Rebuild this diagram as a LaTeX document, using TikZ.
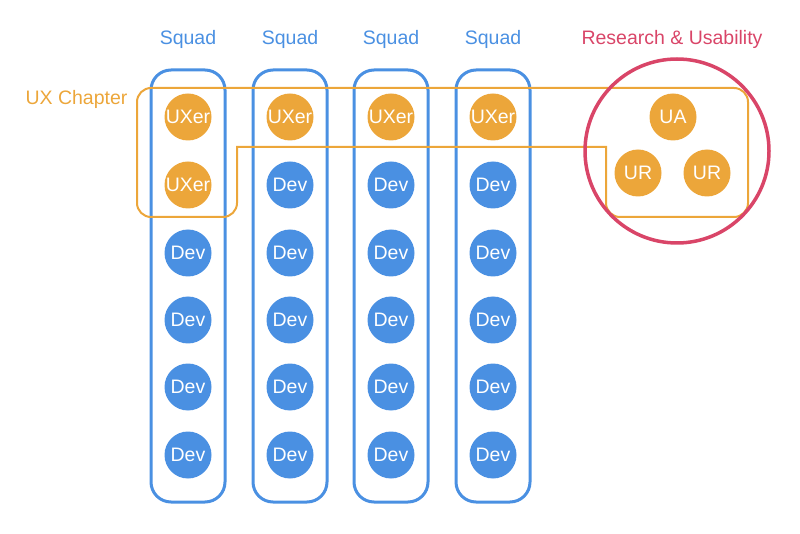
\documentclass[tikz,border=0pt]{standalone}
\usepackage{fontspec}
\setmainfont{Liberation Sans}
\definecolor{squadblue}{RGB}{74,144,226}
\definecolor{uxorange}{RGB}{236,166,58}
\definecolor{resred}{RGB}{217,69,104}

\begin{document}
\begin{tikzpicture}[x=1pt, y=-1pt, every node/.style={font=\fontsize{19.5}{22}\selectfont},
	member/.style={circle, minimum size=47pt, inner sep=0pt, text=white},
	dev/.style={member, fill=squadblue},
	uxer/.style={member, fill=uxorange},
	squadbox/.style={draw=squadblue, line width=3pt, rounded corners=20pt, minimum width=74pt, minimum height=432pt}]
	\useasboundingbox (0,0) rectangle (800,534);
	% squads
	\foreach \x/\i in {188/1,290/2,391/3,493/4} {
		\node[squadbox] (squad\i) at (\x,286) {};
		\node[text=squadblue] (squadlabel\i) at (\x,39) {Squad};
	}
	% chapter outline and research circle
	\draw[uxorange, line width=2pt] (400,88) [rounded corners=14pt] -- (748,88) -- (748,217) -- (606,217) [sharp corners] -- (606,147) -- (237,147) [rounded corners=14pt] -- (237,217) -- (137,217) -- (137,88) -- cycle;
	\node[draw=resred, circle, line width=3.5pt, minimum size=184pt] (research) at (677,151) {};
	\node[text=uxorange, anchor=west] (chapterlabel) at (22,99) {UX Chapter};
	\node[text=resred] (researchlabel) at (672,39) {Research \& Usability};
	% members
	\foreach \x/\i in {188/1,290/2,391/3,493/4}
		\node[uxer] (ux\i) at (\x,117) {UXer};
	\node[uxer] (ux5) at (188,185) {UXer};
	\foreach \x/\i in {290/2,391/3,493/4}
		\node[dev] (dev\i-2) at (\x,185) {Dev};
	\foreach \x/\i in {188/1,290/2,391/3,493/4}
		\foreach \y/\j in {253/3,320/4,387/5,455/6}
			\node[dev] (dev\i-\j) at (\x,\y) {Dev};
	\node[uxer] (ua) at (673,117) {UA};
	\node[uxer] (ur1) at (638,173) {UR};
	\node[uxer] (ur2) at (707,173) {UR};
\end{tikzpicture}
\end{document}
